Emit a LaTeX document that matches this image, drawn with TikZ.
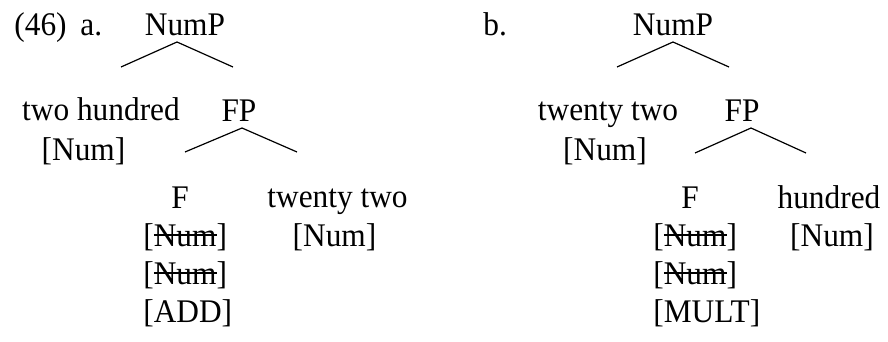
\documentclass[tikz,border=0pt]{standalone}
\usepackage{fontspec}
\setmainfont{Liberation Serif}[FakeStretch=0.95]
\newcommand\struck[1]{\setbox0\hbox{#1}\rlap{\rule[0.31em]{\wd0}{0.05em}}\box0}
\begin{document}
\begin{tikzpicture}[x=0.5pt,y=-0.5pt,
    lbl/.style={inner sep=0pt,anchor=base,font=\fontsize{16.5}{19}\selectfont},
    branch/.style={line width=0.6pt}]
\useasboundingbox (0,0) rectangle (888,342);
% (a)
\node[lbl,anchor=base west] (exnum) at (14,36) {(46)};
\node[lbl,anchor=base west] (exa) at (80,36) {a.};
\node[lbl] (numpA) at (185,36) {NumP};
\node[lbl] (twohundA) at (101,120) {two hundred};
\node[lbl] (numA) at (83.5,160) {[Num]};
\node[lbl] (fpA) at (239,121) {FP};
\node[lbl] (fA) at (180,208) {F};
\node[lbl,anchor=base west] (fnumA1) at (143,246) {[\struck{Num}]};
\node[lbl,anchor=base west] (fnumA2) at (143,284) {[\struck{Num}]};
\node[lbl,anchor=base west] (addA) at (143,322) {[ADD]};
\node[lbl] (twentyA) at (337.5,207) {twenty two};
\node[lbl] (numA2) at (334.5,246) {[Num]};
\coordinate (npA-top) at (177,42);
\coordinate (npA-l) at (121,67);
\coordinate (npA-r) at (233,67);
\coordinate (fpA-top) at (242,128);
\coordinate (fpA-l) at (185,152);
\coordinate (fpA-r) at (297,152);
% (b)
\node[lbl,anchor=base west] (exb) at (483,36) {b.};
\node[lbl] (numpB) at (673,36) {NumP};
\node[lbl] (twentyB) at (608,120) {twenty two};
\node[lbl] (numB) at (605,160) {[Num]};
\node[lbl] (fpB) at (742,121) {FP};
\node[lbl] (fB) at (690,208) {F};
\node[lbl,anchor=base west] (fnumB1) at (653,246) {[\struck{Num}]};
\node[lbl,anchor=base west] (fnumB2) at (653,284) {[\struck{Num}]};
\node[lbl,anchor=base west] (multB) at (653,322) {[MULT]};
\node[lbl] (hundB) at (829,208) {hundred};
\node[lbl] (numB2) at (832,246) {[Num]};
\coordinate (npB-top) at (673,42);
\coordinate (npB-l) at (617,67);
\coordinate (npB-r) at (729,67);
\coordinate (fpB-top) at (751,128);
\coordinate (fpB-l) at (695,153);
\coordinate (fpB-r) at (806,153);
\foreach \t in {npA,fpA,npB,fpB}
    {\draw[branch] (\t-l) -- (\t-top) -- (\t-r);}
\end{tikzpicture}
\end{document}
